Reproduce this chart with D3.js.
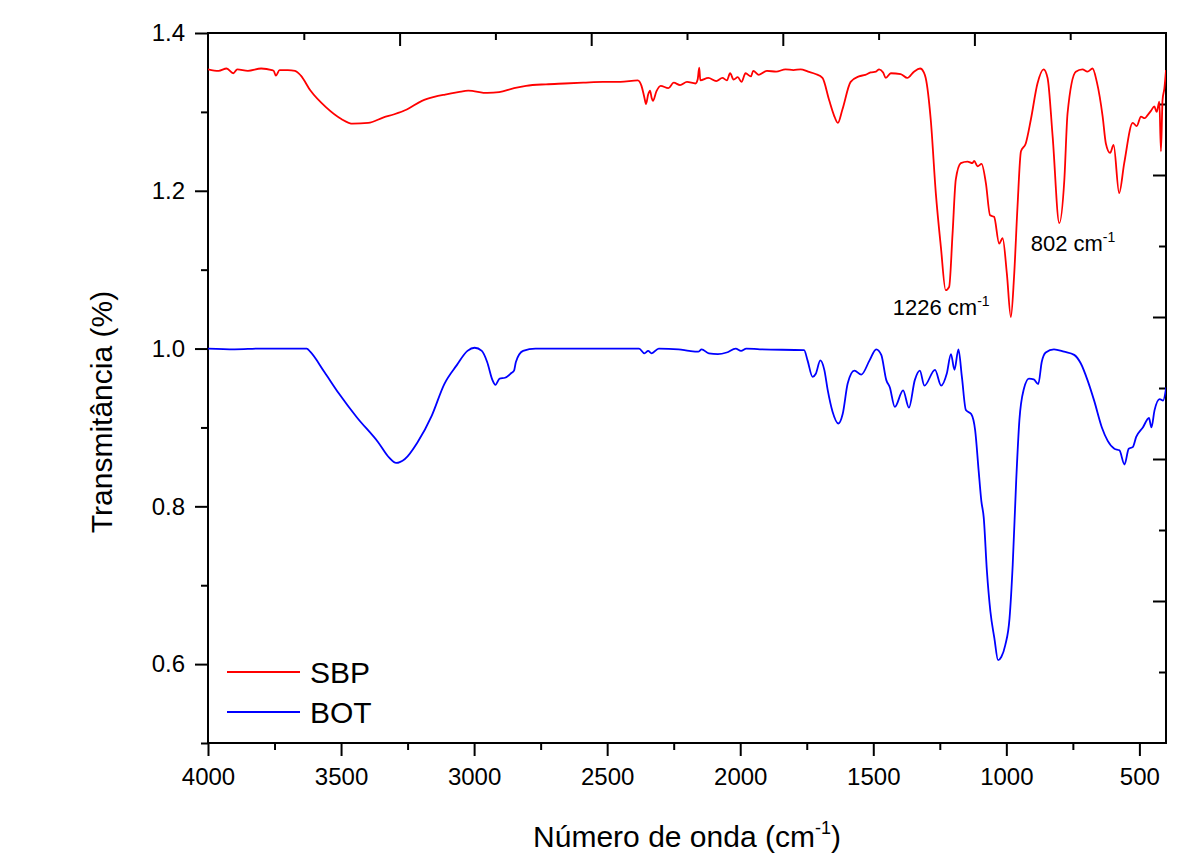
<!DOCTYPE html>
<html>
<head>
<meta charset="utf-8">
<script src="https://cdn.jsdelivr.net/npm/d3@7"></script>
<style>
  html, body { margin: 0; padding: 0; background: #fff; overflow: hidden; }
  svg { display: block; font-family: "Liberation Sans", Arial, sans-serif; }
</style>
</head>
<body>
<div id="chart"></div>
<script>
// FTIR spectra: [wavenumber, transmittance]
const sbp = [
  [4000,1.354],[3960,1.352],[3930,1.355],[3905,1.349],[3890,1.354],[3850,1.352],[3800,1.355],
  [3760,1.353],[3753,1.352],[3745,1.346],[3731,1.353],[3700,1.353],[3673,1.352],[3651,1.346],
  [3615,1.327],[3557,1.306],[3499,1.291],[3456,1.285],[3398,1.286],[3340,1.293],[3300,1.297],
  [3253,1.303],[3196,1.314],[3150,1.319],[3109,1.322],[3060,1.325],[3022,1.327],[2950,1.324],
  [2906,1.325],[2850,1.330],[2805,1.333],[2730,1.335],[2660,1.336],[2590,1.337],[2516,1.338],
  [2450,1.338],[2385,1.340],[2371,1.333],[2360,1.318],[2354,1.310],[2346,1.322],[2339,1.327],
  [2333,1.318],[2328,1.314],[2315,1.326],[2299,1.333],[2270,1.330],[2250,1.337],[2226,1.334],
  [2200,1.338],[2168,1.336],[2160,1.341],[2154,1.356],[2150,1.340],[2120,1.343],[2090,1.339],
  [2067,1.343],[2050,1.340],[2038,1.349],[2025,1.341],[2009,1.344],[1995,1.338],[1980,1.349],
  [1960,1.345],[1951,1.352],[1930,1.347],[1900,1.352],[1865,1.351],[1830,1.354],[1800,1.353],
  [1773,1.354],[1745,1.351],[1717,1.348],[1691,1.343],[1666,1.315],[1648,1.296],[1633,1.286],
  [1616,1.303],[1585,1.338],[1554,1.345],[1530,1.347],[1510,1.350],[1490,1.351],[1478,1.354],
  [1463,1.350],[1453,1.343],[1434,1.349],[1397,1.348],[1372,1.343],[1347,1.351],[1324,1.355],
  [1310,1.350],[1303,1.343],[1284,1.290],[1265,1.197],[1246,1.129],[1228,1.074],[1215,1.078],
  [1202,1.146],[1190,1.214],[1171,1.235],[1146,1.237],[1127,1.235],[1121,1.238],[1108,1.231],
  [1093,1.234],[1077,1.210],[1061,1.169],[1046,1.167],[1027,1.133],[1014,1.140],[998,1.095],
  [983,1.040],[971,1.091],[958,1.180],[945,1.250],[927,1.260],[908,1.290],[883,1.336],
  [860,1.354],[845,1.343],[826,1.269],[801,1.159],[782,1.214],[770,1.298],[739,1.351],
  [714,1.354],[695,1.351],[676,1.355],[660,1.338],[638,1.294],[626,1.260],[610,1.248],
  [597,1.258],[576,1.197],[557,1.235],[525,1.286],[510,1.282],[494,1.294],[480,1.292],
  [469,1.296],[455,1.302],[444,1.307],[435,1.300],[425,1.313],[419,1.250],[413,1.315],
  [406,1.330],[400,1.353]
];

const bot = [
  [4000,1.000],[3900,0.999],[3800,1.000],[3700,1.000],[3629,1.000],[3616,0.996],[3562,0.970],
  [3508,0.943],[3441,0.913],[3360,0.881],[3320,0.862],[3293,0.855],[3260,0.860],[3213,0.881],
  [3159,0.915],[3112,0.955],[3065,0.979],[3025,0.997],[2998,1.001],[2971,0.997],[2951,0.983],
  [2931,0.960],[2920,0.954],[2904,0.962],[2884,0.963],[2860,0.969],[2850,0.972],[2843,0.983],
  [2816,0.997],[2769,1.000],[2600,1.000],[2380,1.000],[2360,0.994],[2346,0.997],[2333,0.994],
  [2306,1.000],[2232,0.999],[2192,0.997],[2158,0.996],[2145,0.999],[2118,0.994],[2084,0.993],
  [2051,0.995],[2017,1.000],[1997,0.997],[1977,1.000],[1926,0.999],[1760,0.998],[1747,0.985],
  [1728,0.964],[1716,0.968],[1699,0.985],[1684,0.973],[1671,0.947],[1653,0.920],[1631,0.905],
  [1615,0.917],[1596,0.956],[1571,0.972],[1545,0.967],[1514,0.985],[1489,0.999],[1470,0.992],
  [1451,0.960],[1438,0.951],[1419,0.926],[1388,0.947],[1366,0.925],[1344,0.960],[1325,0.972],
  [1308,0.953],[1268,0.973],[1245,0.953],[1224,0.968],[1208,0.993],[1195,0.973],[1180,0.999],
  [1167,0.964],[1152,0.922],[1132,0.917],[1117,0.896],[1104,0.845],[1094,0.807],[1085,0.786],
  [1073,0.718],[1060,0.667],[1045,0.633],[1031,0.605],[1019,0.609],[1004,0.624],[988,0.658],
  [976,0.726],[963,0.832],[951,0.909],[934,0.949],[915,0.962],[897,0.961],[880,0.955],
  [867,0.983],[852,0.995],[821,0.999],[783,0.996],[745,0.992],[720,0.981],[695,0.960],
  [670,0.934],[641,0.900],[619,0.883],[594,0.873],[575,0.871],[556,0.853],[540,0.873],
  [525,0.875],[512,0.888],[487,0.900],[464,0.912],[455,0.900],[443,0.922],[424,0.936],
  [411,0.934],[399,0.951]
];

const seriesNames = ["SBP", "BOT"];
const seriesColors = ["#ff0000", "#0000ff"];
const xMajorTicks = [4000, 3500, 3000, 2500, 2000, 1500, 1000, 500];
const xMinorTicks = [3750, 3250, 2750, 2250, 1750, 1250, 750];
const yMajorTicks = [0.6, 0.8, 1.0, 1.2, 1.4];
const yMinorTicks = [0.5, 0.7, 0.9, 1.1, 1.3];
const peakLabels = [
  {wave: 1226, value: 1.074, text: "1226 cm"},
  {wave: 802, value: 1.159, text: "802 cm"}
];

const width = 1195, height = 868;
const margin = {top: 33, right: 29, bottom: 125, left: 208};
const innerWidth = width - margin.left - margin.right;
const innerHeight = height - margin.top - margin.bottom;

const svg = d3.select("#chart").append("svg")
  .attr("width", width).attr("height", height);

const g = svg.append("g").attr("transform", `translate(${margin.left},${margin.top})`);

const xScale = d3.scaleLinear().domain([4000, 400]).range([0, innerWidth]);
const yScale = d3.scaleLinear().domain([0.5, 1.4]).range([innerHeight, 0]);
// Origin draws the opposite axes with their own equal divisions
const topScale = d3.scaleLinear().domain([0, 10]).range([0, innerWidth]);
const rightScale = d3.scaleLinear().domain([0, 10]).range([0, innerHeight]);

const styleAxis = sel => {
  sel.select(".domain").remove();
  sel.selectAll("line").attr("stroke", "#000").attr("stroke-width", 2);
  sel.selectAll("text").attr("font-size", 24).attr("fill", "#000")
     .attr("font-family", "'Liberation Sans', Arial, sans-serif");
};
// ticks only, no labels
const ticksOnly = sel => {
  styleAxis(sel);
  sel.selectAll("text").remove();
};

// bottom
g.append("g").attr("transform", `translate(0,${innerHeight})`)
  .call(d3.axisBottom(xScale).tickValues(xMajorTicks).tickSize(13).tickPadding(12).tickFormat(d3.format("d")))
  .call(styleAxis);
g.append("g").attr("transform", `translate(0,${innerHeight})`)
  .call(d3.axisBottom(xScale).tickValues(xMinorTicks).tickSize(7))
  .call(ticksOnly);

// left
g.append("g")
  .call(d3.axisLeft(yScale).tickValues(yMajorTicks).tickSize(13).tickPadding(10).tickFormat(d3.format(".1f")))
  .call(styleAxis);
g.append("g")
  .call(d3.axisLeft(yScale).tickValues(yMinorTicks).tickSize(7))
  .call(ticksOnly);

// top and right, ticks pointing inwards
g.append("g")
  .call(d3.axisTop(topScale).tickValues([2, 4, 6, 8]).tickSize(-13))
  .call(ticksOnly);
g.append("g")
  .call(d3.axisTop(topScale).tickValues([1, 3, 5, 7, 9]).tickSize(-7))
  .call(ticksOnly);
g.append("g").attr("transform", `translate(${innerWidth},0)`)
  .call(d3.axisRight(rightScale).tickValues([2, 4, 6, 8]).tickSize(-13))
  .call(ticksOnly);
g.append("g").attr("transform", `translate(${innerWidth},0)`)
  .call(d3.axisRight(rightScale).tickValues([1, 3, 5, 7, 9]).tickSize(-7))
  .call(ticksOnly);

// frame
g.append("rect")
  .attr("width", innerWidth).attr("height", innerHeight)
  .attr("fill", "none").attr("stroke", "#000").attr("stroke-width", 2);

g.append("clipPath").attr("id", "clip")
  .append("rect").attr("width", innerWidth).attr("height", innerHeight);

const lineGenerator = d3.line()
  .x(d => xScale(d[0]))
  .y(d => yScale(d[1]))
  .curve(d3.curveMonotoneX);

[sbp, bot].forEach((data, i) => {
  g.append("path")
    .attr("clip-path", "url(#clip)")
    .attr("d", lineGenerator(data))
    .attr("fill", "none")
    .attr("stroke", seriesColors[i])
    .attr("stroke-width", 1.8)
    .attr("stroke-linejoin", "round");
});

// peak labels
peakLabels.forEach((p, i) => {
  const t = g.append("text")
    .attr("x", xScale(p.wave) + (i === 0 ? -5 : 14))
    .attr("y", yScale(p.value) + (i === 0 ? 25 : 28))
    .attr("text-anchor", "middle")
    .attr("font-size", 22)
    .attr("fill", "#000");
  t.append("tspan").text(p.text);
  t.append("tspan").text("-1").attr("font-size", 14).attr("dy", -9);
});

// legend
const legend = g.append("g").attr("transform", "translate(19,639)");
seriesNames.forEach((name, i) => {
  legend.append("line")
    .attr("x1", 0).attr("x2", 73)
    .attr("y1", i * 40).attr("y2", i * 40)
    .attr("stroke", seriesColors[i]).attr("stroke-width", 1.8);
  legend.append("text")
    .attr("x", 83).attr("y", i * 40 + 11)
    .attr("font-size", 30).attr("fill", "#000")
    .text(name);
});

// axis titles
const xTitle = svg.append("text")
  .attr("x", margin.left + innerWidth / 2)
  .attr("y", 847)
  .attr("text-anchor", "middle")
  .attr("font-size", 30).attr("fill", "#000");
xTitle.append("tspan").text("Número de onda (cm");
xTitle.append("tspan").text("-1").attr("font-size", 18).attr("dy", -13);
xTitle.append("tspan").text(")").attr("dy", 13);

svg.append("text")
  .attr("transform", "translate(112,412) rotate(-90)")
  .attr("text-anchor", "middle")
  .attr("font-size", 30).attr("fill", "#000")
  .text("Transmitância (%)");
</script>
</body>
</html>
